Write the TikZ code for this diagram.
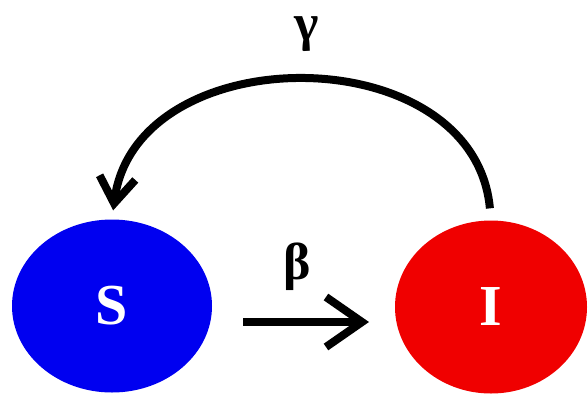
\documentclass[tikz,border=0pt]{standalone}
\usepackage{fontspec}
\setmainfont{Liberation Serif}
\usetikzlibrary{shapes.geometric,arrows.meta}
\definecolor{sblue}{RGB}{0,0,240}
\definecolor{ired}{RGB}{240,0,0}
\tikzset{
  compart/.style={ellipse, inner sep=0pt, minimum width=#1, minimum height=173pt, text=white,
    font=\fontsize{58}{60}\selectfont\bfseries},
  rate/.style={font=\fontsize{52}{54}\selectfont\bfseries, inner sep=0pt},
  flow/.style={line width=8pt, -{Straight Barb[length=36pt,width=50pt]}},
  back/.style={line width=8pt, -{Straight Barb[length=26pt,width=36pt]}}
}
\begin{document}
\begin{tikzpicture}[x=1pt,y=-1pt]
\useasboundingbox[fill=white] (0,0) rectangle (588,394);
\node[compart=200pt, fill=sblue] (S) at (112,306) {S};
\node[compart=192pt, fill=ired] (I) at (491,307) {I};
\node[rate] (g) at (307,34) {γ};
\node[rate] (b) at (297,267) {β};
\coordinate (f1) at (243,322);
\coordinate (f2) at (369,322);
\draw[flow] (f1) -- (f2);
\draw[back, shorten <=12pt, shorten >=9pt] (I.north) .. controls (474,36) and (136,36) .. (S.north);
\end{tikzpicture}
\end{document}
